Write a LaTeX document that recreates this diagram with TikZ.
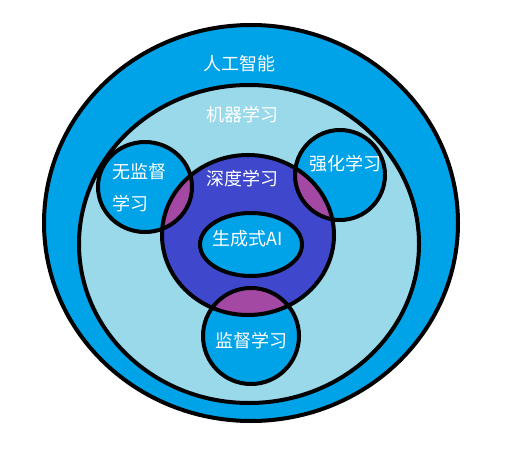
\documentclass[tikz,border=0pt]{standalone}
\usepackage{fontspec}
\setmainfont{Noto Sans CJK SC}
\definecolor{bright}{HTML}{00A2E8}
\definecolor{light}{HTML}{99D9EA}
\definecolor{deep}{HTML}{3F48CC}
\definecolor{lens}{HTML}{A349A4}
\begin{document}
\begin{tikzpicture}[x=1pt,y=-1pt,
  ring/.style={draw=black,line width=4pt},
  lbl/.style={text=white,font=\fontsize{18}{20}\selectfont,inner sep=0pt}]
\useasboundingbox (0,0) rectangle (513,449);
% fills
\fill[bright] (251,223) ellipse [x radius=207,y radius=198];
\fill[light] (249,244) ellipse [x radius=170,y radius=159];
\fill[bright] (145,187) ellipse [x radius=47,y radius=45];
\fill[bright] (340,175) ellipse [x radius=45,y radius=45];
\fill[bright] (251,336) ellipse [x radius=48,y radius=48];
\fill[deep] (248,235) ellipse [x radius=86,y radius=80];
\begin{scope}
  \clip (248,235) ellipse [x radius=86,y radius=80];
  \fill[lens] (145,187) ellipse [x radius=47,y radius=45];
  \fill[lens] (340,175) ellipse [x radius=45,y radius=45];
  \fill[lens] (251,336) ellipse [x radius=48,y radius=48];
\end{scope}
\fill[bright] (251,244.5) ellipse [x radius=51,y radius=31.5];
% outlines
\draw[ring] (251,223) ellipse [x radius=207,y radius=198];
\draw[ring] (249,244) ellipse [x radius=170,y radius=159];
\draw[ring] (145,187) ellipse [x radius=47,y radius=45];
\draw[ring] (340,175) ellipse [x radius=45,y radius=45];
\draw[ring] (251,336) ellipse [x radius=48,y radius=48];
\draw[ring] (248,235) ellipse [x radius=86,y radius=80];
\draw[ring] (251,244.5) ellipse [x radius=51,y radius=31.5];
% labels
\node[lbl] (ai) at (239,64) {人工智能};
\node[lbl] (ml) at (242,114.5) {机器学习};
\node[lbl,anchor=west] (un1) at (112,171.5) {无监督};
\node[lbl,anchor=west] (un2) at (112,203.5) {学习};
\node[lbl] (dl) at (242.5,179) {深度学习};
\node[lbl] (rl) at (345,163.5) {强化学习};
\node[lbl] (gen) at (248,238.5) {生成式AI};
\node[lbl] (sl) at (251.5,341) {监督学习};
\end{tikzpicture}
\end{document}
